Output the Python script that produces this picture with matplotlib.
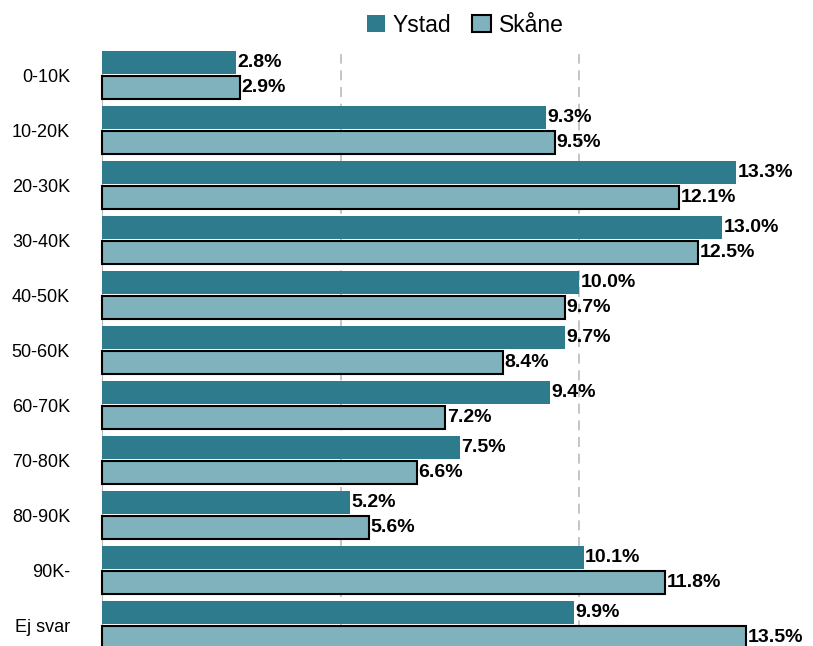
import matplotlib
matplotlib.use("Agg")
import matplotlib.pyplot as plt
import numpy as np

categories = ["0-10K", "10-20K", "20-30K", "30-40K", "40-50K", "50-60K",
              "60-70K", "70-80K", "80-90K", "90K-", "Ej svar"]
ystad = [2.8, 9.3, 13.3, 13.0, 10.0, 9.7, 9.4, 7.5, 5.2, 10.1, 9.9]
skane = [2.9, 9.5, 12.1, 12.5, 9.7, 8.4, 7.2, 6.6, 5.6, 11.8, 13.5]
series_names = ["Ystad", "Skåne"]

c_ystad = "#2F7B8E"
c_skane = "#7FB2BC"

plt.rcParams['font.family'] = ['Liberation Sans', 'DejaVu Sans']

fig = plt.figure(figsize=(8.13, 6.46), dpi=100)
W, H = 813, 646
left_px, top_px, bottom_px = 102, 54, 652.5
px_per_unit = 47.7
xmax = 15
ax = fig.add_axes([left_px / W, 1 - bottom_px / H,
                   xmax * px_per_unit / W, (bottom_px - top_px) / H])

y = np.arange(len(categories))
h = 0.42
off = 0.225
b1 = ax.barh(y - off, ystad, height=h, color=c_ystad, edgecolor="none",
             label=series_names[0], zorder=3, clip_on=False)
b2 = ax.barh(y + off, skane, height=h, color=c_skane, edgecolor="black",
             linewidth=1.5, label=series_names[1], zorder=3, clip_on=False)

for bars, vals in ((b1, ystad), (b2, skane)):
    for rect, v in zip(bars, vals):
        ax.text(rect.get_width() + 0.03, rect.get_y() + rect.get_height() / 2,
                f"{v:.1f}%", ha="left", va="center", fontsize=14,
                fontweight="bold", color="black", zorder=4, clip_on=False)

ax.set_xlim(0, xmax)
ax.set_ylim(len(categories) - 0.5, -0.382)
ax.set_yticks(y)
ax.set_yticklabels(categories, fontsize=13)
ax.tick_params(axis="y", length=0, pad=23)
ax.set_xticks([5, 10])
ax.tick_params(axis="x", length=0, labelbottom=False)
ax.grid(axis="x", color="#bbbbbb", linestyle=(0, (6, 4)), linewidth=1.2, zorder=0)
for s in ("top", "right", "bottom"):
    ax.spines[s].set_visible(False)
ax.spines["left"].set_color("#bbbbbb")
ax.spines["left"].set_zorder(1)

fig.legend(handles=[b1, b2], labels=series_names, loc="center",
           bbox_to_anchor=(465 / W, 1 - 25 / H), ncol=2, frameon=False,
           fontsize=16.5, handlelength=0.8, handleheight=0.8,
           handletextpad=0.35, columnspacing=0.9)

fig.savefig("out.png", dpi=100)
